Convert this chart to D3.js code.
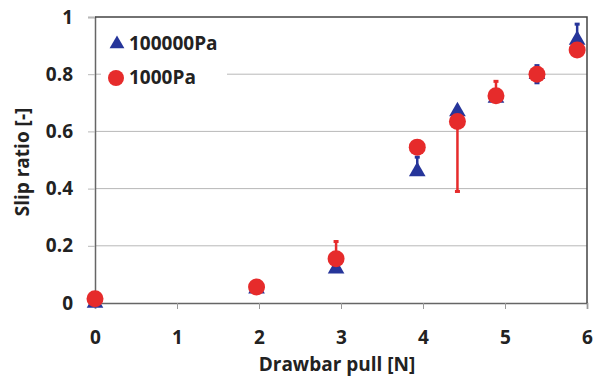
<!DOCTYPE html>
<html>
<head>
<meta charset="utf-8">
<script src="https://cdn.jsdelivr.net/npm/d3@7"></script>
<style>
  body { margin: 0; background: #fff; }
  text { font-family: "Open Sans", Lato, sans-serif; font-weight: 700; fill: #222; }
</style>
</head>
<body>
<script>
// data
const pull = [0, 1.97, 2.94, 3.93, 4.42, 4.89, 5.39, 5.88];
const slipHigh = [0.0, 0.05, 0.12, 0.46, 0.67, 0.717, 0.80, 0.92];   // 100000Pa
const errHighUp = [0, 0, 0, 0.05, 0, 0, 0.03, 0.055];
const errHighDown = [0, 0, 0, 0, 0, 0, 0.03, 0];
const slipLow = [0.015, 0.056, 0.155, 0.545, 0.635, 0.725, 0.80, 0.885]; // 1000Pa
const errLowUp = [0, 0, 0.06, 0, 0, 0.05, 0, 0];
const errLowDown = [0, 0, 0, 0, 0.245, 0, 0, 0];
const xTicks = [0, 1, 2, 3, 4, 5, 6];
const yTicks = [0, 0.2, 0.4, 0.6, 0.8, 1];
const seriesNames = ['100000Pa', '1000Pa'];

const W = 599, H = 376;
const margin = {top: 17, right: 12, bottom: 73, left: 95};
const width = W - margin.left - margin.right;
const height = H - margin.top - margin.bottom;

const svg = d3.select('body').append('svg')
  .attr('width', W)
  .attr('height', H);

const g = svg.append('g')
  .attr('transform', `translate(${margin.left}, ${margin.top})`);

const x = d3.scaleLinear().domain([0, 6]).range([0, width]);
const y = d3.scaleLinear().domain([0, 1]).range([height, 0]);

const blue = '#26359a';
const red = '#e62b2b';
const font = '"Open Sans", sans-serif';
const fs = '19px';

// gridlines
g.selectAll('.grid').data(yTicks.filter(d => d > 0 && d < 1)).enter().append('line')
  .attr('x1', 0).attr('x2', width)
  .attr('y1', d => y(d)).attr('y2', d => y(d))
  .attr('stroke', '#b8b8b8').attr('stroke-width', 1);

// y axis
const yAxis = g.append('g')
  .call(d3.axisLeft(y).tickValues(yTicks).tickFormat(d3.format('')).tickSize(7).tickPadding(15));
yAxis.select('.domain').attr('stroke', '#666').attr('stroke-width', 1.5);
yAxis.selectAll('.tick line').attr('stroke', '#b8b8b8');
yAxis.selectAll('.tick text').style('font-size', fs).style('font-family', font);

// x axis
const xAxis = g.append('g')
  .attr('transform', `translate(0, ${height})`)
  .call(d3.axisBottom(x).tickValues(xTicks).tickFormat(d3.format('d')).tickSize(6).tickPadding(22));
xAxis.select('.domain').attr('stroke', '#666').attr('stroke-width', 1.5);
xAxis.selectAll('.tick line').attr('stroke', '#999');
xAxis.selectAll('.tick text').style('font-size', fs).style('font-family', font);

// top and right border
g.append('path')
  .attr('d', `M0,0H${width}V${height}`)
  .attr('fill', 'none').attr('stroke', '#444').attr('stroke-width', 1.5);

// axis titles
svg.append('text')
  .attr('x', margin.left + width / 2 - 4).attr('y', 371)
  .attr('text-anchor', 'middle').style('font-size', fs)
  .text('Drawbar pull [N]');
svg.append('text')
  .attr('transform', `translate(29, 162) rotate(-90)`)
  .attr('text-anchor', 'middle').style('font-size', fs)
  .text('Slip ratio [-]');

// legend
const legend = g.append('g').attr('transform', 'translate(6, 8)');
legend.append('rect').attr('width', 126).attr('height', 64).attr('fill', '#fff');
legend.append('path')
  .attr('d', d3.symbol().type(d3.symbolTriangle).size(95)())
  .attr('transform', 'translate(16, 19)').attr('fill', blue);
legend.append('circle').attr('cx', 15).attr('cy', 53).attr('r', 8).attr('fill', red);
legend.selectAll('.lt').data(seriesNames).enter().append('text')
  .attr('x', 28).attr('y', (d, i) => 25 + i * 34)
  .style('font-size', fs)
  .text(d => d);

function errorBars(sel, vals, up, down, color) {
  const data = pull.map((p, i) => ({p, v: vals[i], up: up[i], down: down[i]}))
    .filter(d => d.up > 0 || d.down > 0);
  const eb = sel.append('g');
  eb.selectAll('line').data(data).enter().append('line')
    .attr('x1', d => x(d.p)).attr('x2', d => x(d.p))
    .attr('y1', d => y(d.v + d.up)).attr('y2', d => y(d.v - d.down))
    .attr('stroke', color).attr('stroke-width', 2.5);
  data.forEach(d => {
    [d.up > 0 ? d.v + d.up : null, d.down > 0 ? d.v - d.down : null].forEach(e => {
      if (e === null) return;
      eb.append('rect')
        .attr('x', x(d.p) - 2.5).attr('y', y(e) - 1.5)
        .attr('width', 5).attr('height', 3).attr('fill', color);
    });
  });
}

// 100000Pa series
errorBars(g, slipHigh, errHighUp, errHighDown, blue);
g.selectAll('.tri').data(pull).enter().append('path')
  .attr('d', d3.symbol().type(d3.symbolTriangle).size(120)())
  .attr('transform', (d, i) => `translate(${x(d)}, ${y(slipHigh[i])})`)
  .attr('fill', blue);

// 1000Pa series
errorBars(g, slipLow, errLowUp, errLowDown, red);
g.selectAll('.dot').data(pull).enter().append('circle')
  .attr('cx', d => x(d))
  .attr('cy', (d, i) => y(slipLow[i]))
  .attr('r', 8.5)
  .attr('fill', red);
</script>
</body>
</html>
